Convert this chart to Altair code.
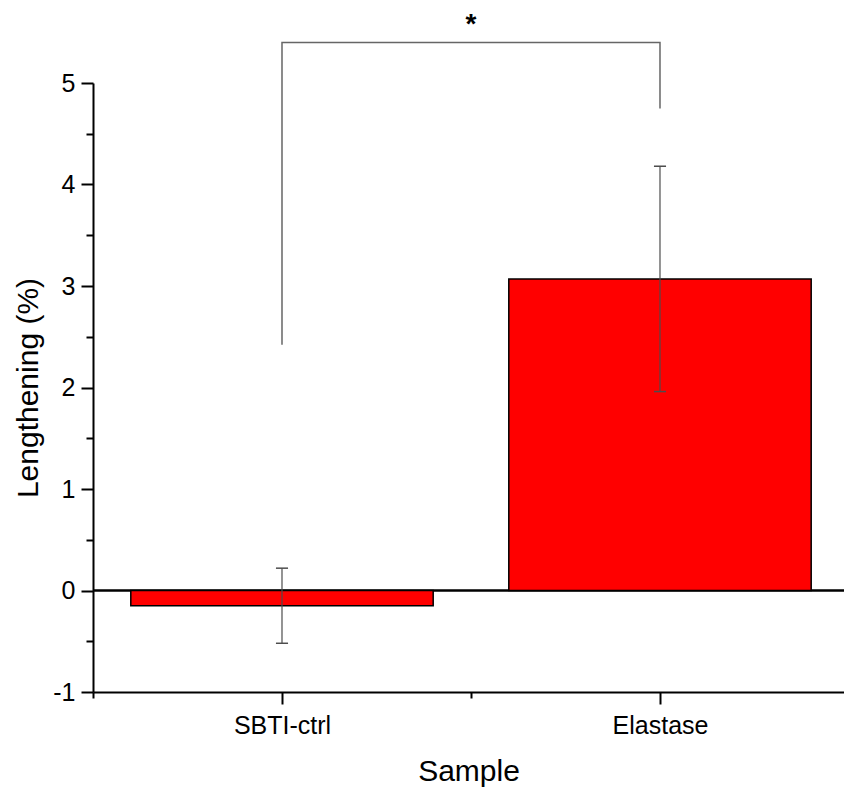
import altair as alt
import pandas as pd

# ---- data ----
categories = ["SBTI-ctrl", "Elastase"]
cat_index = [1, 2]
values = [-0.15, 3.07]
err_low = [-0.52, 1.96]
err_high = [0.22, 4.18]

y_major = [-1, 0, 1, 2, 3, 4, 5]
y_minor = [-0.5, 0.5, 1.5, 2.5, 3.5, 4.5]
x_minor = [0.5, 1.5]

bracket_x = [1, 1, 2, 2]
bracket_y = [2.42, 5.40, 5.40, 4.75]
bracket_step = [0, 1, 2, 3]
star_x = [1.5]
star_y = [5.49]
star_text = ["*"]

FONT = "Liberation Sans"

df = pd.DataFrame({"category": categories, "idx": cat_index, "value": values,
                   "lo": err_low, "hi": err_high})
bracket = pd.DataFrame({"bx": bracket_x, "by": bracket_y, "step": bracket_step})
star = pd.DataFrame({"sx": star_x, "sy": star_y, "t": star_text})

xscale = alt.Scale(domain=[0.5, 2.4868], nice=False, zero=False)
yscale = alt.Scale(domain=[-1, 5], nice=False, zero=False)

label_array = "[" + ",".join("'" + c + "'" for c in categories) + "]"

x_major_axis = alt.Axis(values=cat_index, labelExpr=label_array + "[datum.value - 1]",
                        orient="bottom", tickSize=12, tickWidth=2, domainWidth=2,
                        domainColor="black", tickColor="black", labelColor="black",
                        labelFontSize=25, labelPadding=9, labelFont=FONT, grid=False,
                        title="Sample", titleFontSize=30, titleFont=FONT,
                        titleFontWeight="normal", titleColor="black",
                        titleY=64, titleBaseline="top")
y_major_axis = alt.Axis(values=y_major, orient="left", tickSize=12, tickWidth=2,
                        domainWidth=2, domainColor="black", tickColor="black",
                        labelColor="black", labelFontSize=25, labelPadding=6,
                        labelFont=FONT, grid=False, labelExpr="'' + datum.value",
                        title="Lengthening (%)", titleFontSize=30, titleFont=FONT,
                        titleFontWeight="normal", titleColor="black", titleX=-50)
x_minor_axis = alt.Axis(values=x_minor, orient="bottom", tickSize=6, tickWidth=2,
                        tickColor="black", labels=False, domain=False, grid=False,
                        title=None)
y_minor_axis = alt.Axis(values=y_minor, orient="left", tickSize=7, tickWidth=2,
                        tickColor="black", labels=False, domain=False, grid=False,
                        title=None)

base = alt.Chart(df).transform_calculate(
    x0="datum.idx - 0.4", x1="datum.idx + 0.4",
    c0="datum.idx - 0.016", c1="datum.idx + 0.016")

zero_line = base.mark_rule(color="black", strokeWidth=2).encode(
    y=alt.Y(datum=0, scale=yscale, axis=None))

bars = base.mark_bar(color="#ff0000", stroke="black", strokeWidth=1.5).encode(
    x=alt.X("x0:Q", scale=xscale, axis=x_major_axis),
    x2="x1:Q",
    y=alt.Y("value:Q", scale=yscale, axis=y_major_axis),
    y2=alt.Y2(datum=0),
)

minor = base.mark_point(opacity=0).encode(
    x=alt.X("idx:Q", scale=xscale, axis=x_minor_axis),
    y=alt.Y("value:Q", scale=yscale, axis=y_minor_axis),
)

err_line = base.mark_rule(color="#4d4d4d", strokeWidth=1.2).encode(
    x=alt.X("idx:Q", scale=xscale, axis=None),
    y=alt.Y("lo:Q", scale=yscale, axis=None),
    y2="hi:Q",
)
cap_lo = base.mark_rule(color="#4d4d4d", strokeWidth=1.5).encode(
    x=alt.X("c0:Q", scale=xscale, axis=None), x2="c1:Q",
    y=alt.Y("lo:Q", scale=yscale, axis=None))
cap_hi = base.mark_rule(color="#4d4d4d", strokeWidth=1.5).encode(
    x=alt.X("c0:Q", scale=xscale, axis=None), x2="c1:Q",
    y=alt.Y("hi:Q", scale=yscale, axis=None))

bracket_line = alt.Chart(bracket).mark_line(color="#666666", strokeWidth=1.5,
                                            clip=False).encode(
    x=alt.X("bx:Q", scale=xscale, axis=None),
    y=alt.Y("by:Q", scale=yscale, axis=None),
    order="step:Q",
)

star_mark = alt.Chart(star).mark_text(fontSize=28, font=FONT, color="black",
                                      fontWeight="bold",
                                      baseline="alphabetic", align="center").encode(
    x=alt.X("sx:Q", scale=xscale, axis=None),
    y=alt.Y("sy:Q", scale=yscale, axis=None),
    text="t:N",
)

chart = alt.layer(zero_line, bars, minor, err_line, cap_lo, cap_hi,
                  bracket_line, star_mark).resolve_axis(
    x="independent", y="independent"
).properties(
    width=751, height=609,
    autosize=alt.AutoSizeParams(type="none"),
    padding={"left": 93, "top": 83, "right": 0, "bottom": 100},
    background="white",
).configure(font=FONT).configure_view(stroke=None, strokeWidth=0).configure_axis(
    grid=False
)

chart.save("out.html", embed_options={"renderer": "svg", "actions": False})
